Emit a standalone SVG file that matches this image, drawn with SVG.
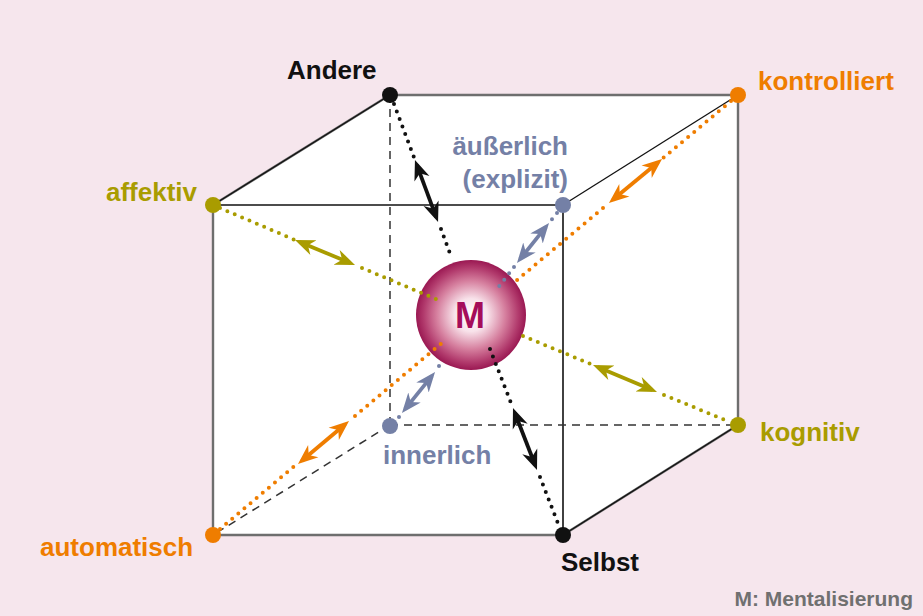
<svg xmlns="http://www.w3.org/2000/svg" width="923" height="616" viewBox="0 0 923 616">
<defs>
<style>
text{font-family:"Liberation Sans",Arial,sans-serif;font-weight:bold;font-size:26px}
.edge{stroke:#111;stroke-width:1.6;fill:none}
.thin{stroke:#111;stroke-width:1.3;fill:none}
.dash{stroke:#333;stroke-width:1.5;stroke-dasharray:8 6;fill:none}
.dot{stroke-width:4;stroke-linecap:round;stroke-dasharray:0 8;fill:none}
.arr{stroke-width:3.8;fill:none}
.k{stroke:#111}.o{stroke:#ef7d00}.g{stroke:#a99c00}.b{stroke:#7480a6}
</style>
<radialGradient id="sph" cx="0.5" cy="0.5" r="0.5">
<stop offset="0" stop-color="#ffffff"/>
<stop offset="0.3" stop-color="#f8e2ea"/>
<stop offset="0.62" stop-color="#d6809f"/>
<stop offset="0.86" stop-color="#b23b6d"/>
<stop offset="1" stop-color="#9a1852"/>
</radialGradient>
<marker id="hk" viewBox="0 -9 21 18" refX="15" refY="0" markerWidth="21" markerHeight="18" markerUnits="userSpaceOnUse" orient="auto-start-reverse"><path d="M20,0 L0,-8 L6,0 L0,8 Z" fill="#111"/></marker>
<marker id="ho" viewBox="0 -9 21 18" refX="15" refY="0" markerWidth="21" markerHeight="18" markerUnits="userSpaceOnUse" orient="auto-start-reverse"><path d="M20,0 L0,-8 L6,0 L0,8 Z" fill="#ef7d00"/></marker>
<marker id="hg" viewBox="0 -9 21 18" refX="15" refY="0" markerWidth="21" markerHeight="18" markerUnits="userSpaceOnUse" orient="auto-start-reverse"><path d="M20,0 L0,-8 L6,0 L0,8 Z" fill="#a99c00"/></marker>
<marker id="hb" viewBox="0 -9 21 18" refX="15" refY="0" markerWidth="21" markerHeight="18" markerUnits="userSpaceOnUse" orient="auto-start-reverse"><path d="M20,0 L0,-8 L6,0 L0,8 Z" fill="#7480a6"/></marker>
</defs>
<rect width="923" height="616" fill="#f6e6ed"/>
<g id="cube">
<polygon points="213,205 390,95 738,95 738,425 563,535 213,535" fill="#fff" stroke="#6e6e6e" stroke-width="2.4"/>
<line class="thin" x1="213" y1="205" x2="390" y2="95"/>
<line class="thin" x1="563" y1="535" x2="738" y2="425"/>
<line class="thin" x1="563" y1="205" x2="738" y2="95"/>
<line class="edge" x1="213" y1="205" x2="563" y2="205"/>
<line class="edge" x1="563" y1="205" x2="563" y2="535"/>
<line class="dash" x1="390" y1="95" x2="390" y2="425"/>
<line class="dash" x1="390" y1="425" x2="738" y2="425"/>
<line class="dash" x1="390" y1="425" x2="213" y2="535"/>
</g>
<g id="center">
<circle cx="471" cy="315" r="55" fill="url(#sph)"/>
</g>
<g id="connectors">
<line class="dot k" x1="394" y1="104" x2="415" y2="160"/>
<line class="dot k" x1="441" y1="229" x2="452" y2="259"/>
<line class="dot k" x1="490" y1="349" x2="513" y2="408"/>
<line class="dot k" x1="540" y1="477" x2="559" y2="526"/>
<line class="dot g" x1="220" y1="208" x2="295" y2="240"/>
<line class="dot g" x1="362" y1="268" x2="436" y2="299"/>
<line class="dot g" x1="523" y1="336" x2="593" y2="365"/>
<line class="dot g" x1="664" y1="395" x2="730" y2="422"/>
<line class="dot o" x1="731" y1="101" x2="662" y2="159"/>
<line class="dot o" x1="603" y1="208" x2="517" y2="280"/>
<line class="dot o" x1="220" y1="529" x2="298" y2="463"/>
<line class="dot o" x1="355" y1="416" x2="443" y2="342"/>
<line class="dot b" x1="557" y1="213" x2="549" y2="223"/>
<line class="dot b" x1="514" y1="267" x2="497" y2="289"/>
<line class="dot b" x1="439" y1="366" x2="435" y2="372"/>
<line class="dot b" x1="399" y1="417" x2="395" y2="422"/>
<line class="arr k" x1="416.7" y1="164.7" x2="436.3" y2="217.3" marker-start="url(#hk)" marker-end="url(#hk)"/>
<line class="arr k" x1="514.8" y1="412.7" x2="535.2" y2="465.3" marker-start="url(#hk)" marker-end="url(#hk)"/>
<line class="arr g" x1="299.6" y1="241.9" x2="350.4" y2="263.1" marker-start="url(#hg)" marker-end="url(#hg)"/>
<line class="arr g" x1="597.6" y1="366.9" x2="652.4" y2="390.1" marker-start="url(#hg)" marker-end="url(#hg)"/>
<line class="arr o" x1="658.2" y1="162.2" x2="612.8" y2="199.8" marker-start="url(#ho)" marker-end="url(#ho)"/>
<line class="arr o" x1="345.2" y1="424.2" x2="301.8" y2="460.8" marker-start="url(#ho)" marker-end="url(#ho)"/>
<line class="arr b" x1="545.9" y1="226.9" x2="520.1" y2="259.1" marker-start="url(#hb)" marker-end="url(#hb)"/>
<line class="arr b" x1="431.9" y1="375.9" x2="405.1" y2="409.1" marker-start="url(#hb)" marker-end="url(#hb)"/>
</g>
<g id="center-label">
<text x="470" y="328" text-anchor="middle" fill="#a50d5a" style="font-size:36px">M</text>
</g>
<g id="andere"><circle cx="390" cy="95" r="8" fill="#111"/><text x="287" y="79" fill="#111">Andere</text></g>
<g id="kontrolliert"><circle cx="738" cy="95" r="8" fill="#ef7d00"/><text x="758" y="90" fill="#ef7d00">kontrolliert</text></g>
<g id="affektiv"><circle cx="213" cy="205" r="8" fill="#a99c00"/><text x="197" y="201" text-anchor="end" fill="#a99c00">affektiv</text></g>
<g id="aeusserlich"><circle cx="563" cy="205" r="8" fill="#7480a6"/><text x="568" y="155" text-anchor="end" fill="#7480a6">äußerlich</text><text x="568" y="188" text-anchor="end" fill="#7480a6">(explizit)</text></g>
<g id="innerlich"><circle cx="390" cy="426" r="8" fill="#7480a6"/><text x="383" y="464" fill="#7480a6">innerlich</text></g>
<g id="kognitiv"><circle cx="738" cy="425" r="8" fill="#a99c00"/><text x="760" y="441" fill="#a99c00">kognitiv</text></g>
<g id="automatisch"><circle cx="213" cy="535" r="8" fill="#ef7d00"/><text x="40" y="556" fill="#ef7d00">automatisch</text></g>
<g id="selbst"><circle cx="563" cy="535" r="8" fill="#111"/><text x="561" y="571" fill="#111">Selbst</text></g>
<text id="legend" x="913" y="606" text-anchor="end" fill="#707070" style="font-size:21px">M: Mentalisierung</text>
</svg>
